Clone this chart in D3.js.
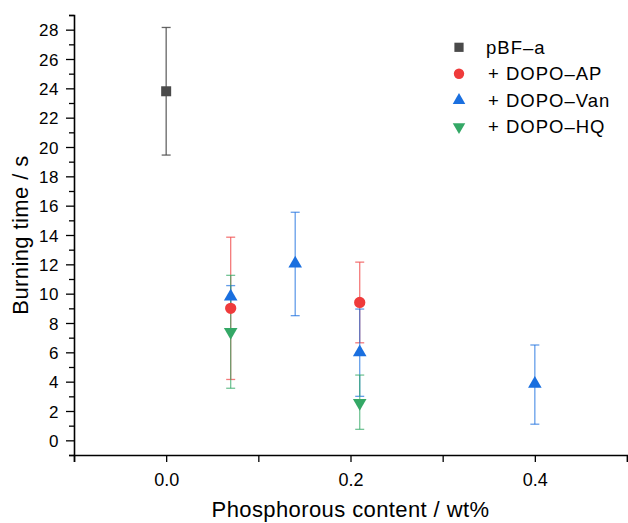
<!DOCTYPE html>
<html>
<head>
<meta charset="utf-8">
<script src="https://cdn.jsdelivr.net/npm/d3@7"></script>
<style>
  html, body { margin: 0; padding: 0; background: #fff; overflow: hidden; }
  text { font-family: "Liberation Sans", Arial, sans-serif; fill: #000; }
</style>
</head>
<body>
<div id="chart"></div>
<script>
// data
const seriesNames = ["pBF\u2013a", "+ DOPO\u2013AP", "+ DOPO\u2013Van", "+ DOPO\u2013HQ"];
const seriesColors = ["#4a4a4a", "#ef3b3b", "#1a6fdf", "#34a866"];
const seriesSymbols = ["square", "circle", "triangle", "triangleDown"];

const pbfX = [0.0];
const pbfY = [23.8];
const pbfLow = [19.45];
const pbfHigh = [28.15];

const apX = [0.07, 0.21];
const apY = [9.0, 9.4];
const apLow = [4.15, 6.65];
const apHigh = [13.85, 12.15];

const vanX = [0.07, 0.14, 0.21, 0.40];
const vanY = [9.8, 12.05, 6.0, 3.85];
const vanLow = [9.05, 8.5, 3.0, 1.1];
const vanHigh = [10.55, 15.55, 8.95, 6.5];

const hqX = [0.07, 0.21];
const hqY = [7.4, 2.55];
const hqLow = [3.55, 0.75];
const hqHigh = [11.25, 4.45];

const xTicks = [-0.1, 0.0, 0.1, 0.2, 0.3, 0.4, 0.5];
const xLabelTicks = [0.0, 0.2, 0.4];
const yTicks = d3.range(-1, 30, 1);

let width = 628;
let height = 523;
let margin = { top: 15, right: 1, bottom: 68, left: 74 };
let innerWidth = width - margin.left - margin.right;
let innerHeight = height - margin.top - margin.bottom;

const series = [
    { x: pbfX, y: pbfY, lo: pbfLow, hi: pbfHigh },
    { x: apX, y: apY, lo: apLow, hi: apHigh },
    { x: vanX, y: vanY, lo: vanLow, hi: vanHigh },
    { x: hqX, y: hqY, lo: hqLow, hi: hqHigh }
].map((s, i) => ({
    name: seriesNames[i],
    color: seriesColors[i],
    symbol: seriesSymbols[i],
    points: s.x.map((x, j) => ({ x, y: s.y[j], lo: s.lo[j], hi: s.hi[j] }))
}));

const svg = d3.select("#chart")
    .append("svg")
    .attr("width", width)
    .attr("height", height)
    .style("display", "block");

const g = svg.append("g")
    .attr("transform", `translate(${margin.left},${margin.top})`);

const x = d3.scaleLinear()
    .domain([-0.1, 0.5])
    .range([0, innerWidth]);

const y = d3.scaleLinear()
    .domain([-1, 29])
    .range([innerHeight, 0]);

function symbolPath(kind, size) {
    if (kind === "square") return d3.symbol(d3.symbolSquare, size)();
    if (kind === "circle") return d3.symbol(d3.symbolCircle, size)();
    return d3.symbol(d3.symbolTriangle, size)();
}
const symbolSizes = { square: 100, circle: 100, triangle: 80, triangleDown: 80 };

// Error bars
const capHalf = 4.5;
series.forEach(s => {
    const eb = g.append("g")
        .attr("stroke", s.color)
        .attr("stroke-opacity", s.symbol === "square" ? 0.85 : 0.68)
        .attr("stroke-width", 1.3);
    s.points.forEach(p => {
        eb.append("line")
            .attr("x1", x(p.x)).attr("x2", x(p.x))
            .attr("y1", y(p.lo)).attr("y2", y(p.hi));
        [p.lo, p.hi].forEach(v => {
            eb.append("line")
                .attr("x1", x(p.x) - capHalf).attr("x2", x(p.x) + capHalf)
                .attr("y1", y(v)).attr("y2", y(v));
        });
    });
});

// Markers
series.forEach(s => {
    g.selectAll(null)
        .data(s.points)
        .enter()
        .append("path")
        .attr("d", symbolPath(s.symbol, symbolSizes[s.symbol]))
        .attr("transform", d => `translate(${x(d.x)},${y(d.y)})` + (s.symbol === "triangleDown" ? " rotate(180)" : ""))
        .attr("fill", s.color);
});

// Axes
const yAxis = g.append("g")
    .call(d3.axisLeft(y).tickValues(yTicks).tickSize(5).tickFormat(""));
yAxis.selectAll(".tick text").remove();
yAxis.selectAll(".tick line")
    .attr("x2", d => (d % 2 === 0 ? -8 : -5))
    .attr("stroke-width", 1.3);
yAxis.select(".domain").attr("stroke-width", 1.6);
yAxis.selectAll(".tick")
    .filter(d => d % 2 === 0 && d >= 0)
    .append("text")
    .attr("x", -15)
    .attr("dy", "0.36em")
    .attr("text-anchor", "end")
    .style("font-size", "17px")
    .style("letter-spacing", "0.6px")
    .text(d => d);

const xAxis = g.append("g")
    .attr("transform", `translate(0,${innerHeight})`)
    .call(d3.axisBottom(x).tickValues(xTicks).tickSize(7).tickFormat(""));
xAxis.selectAll(".tick text").remove();
xAxis.selectAll(".tick line").attr("stroke-width", 1.3);
xAxis.select(".domain").attr("stroke-width", 1.6);
xAxis.selectAll(".tick")
    .filter(d => xLabelTicks.some(v => Math.abs(v - d) < 1e-9))
    .append("text")
    .attr("y", 31)
    .attr("text-anchor", "middle")
    .style("font-size", "18px")
    .text(d => d3.format(".1f")(d));
g.selectAll(".domain").attr("stroke", "#000");

// Axis titles
svg.append("text")
    .attr("transform", `translate(28,${margin.top + innerHeight / 2}) rotate(-90)`)
    .attr("text-anchor", "middle")
    .style("font-size", "22px")
    .style("letter-spacing", "0.4px")
    .text("Burning time / s");

svg.append("text")
    .attr("x", margin.left + innerWidth / 2)
    .attr("y", 517)
    .attr("text-anchor", "middle")
    .style("font-size", "22px")
    .style("letter-spacing", "0.4px")
    .text("Phosphorous content / wt%");

// Legend
const legend = svg.append("g").attr("transform", "translate(459,47.3)");
series.forEach((s, i) => {
    const row = legend.append("g").attr("transform", `translate(0,${i * 26.5})`);
    row.append("path")
        .attr("d", symbolPath(s.symbol, symbolSizes[s.symbol] * 0.85))
        .attr("transform", s.symbol === "triangleDown" ? "rotate(180)" : null)
        .attr("fill", s.color);
    row.append("text")
        .attr("x", s.symbol === "square" ? 27 : 29)
        .attr("dy", "0.36em")
        .style("font-size", "18.5px")
        .style("letter-spacing", "1px")
        .text(s.name);
});
</script>
</body>
</html>
